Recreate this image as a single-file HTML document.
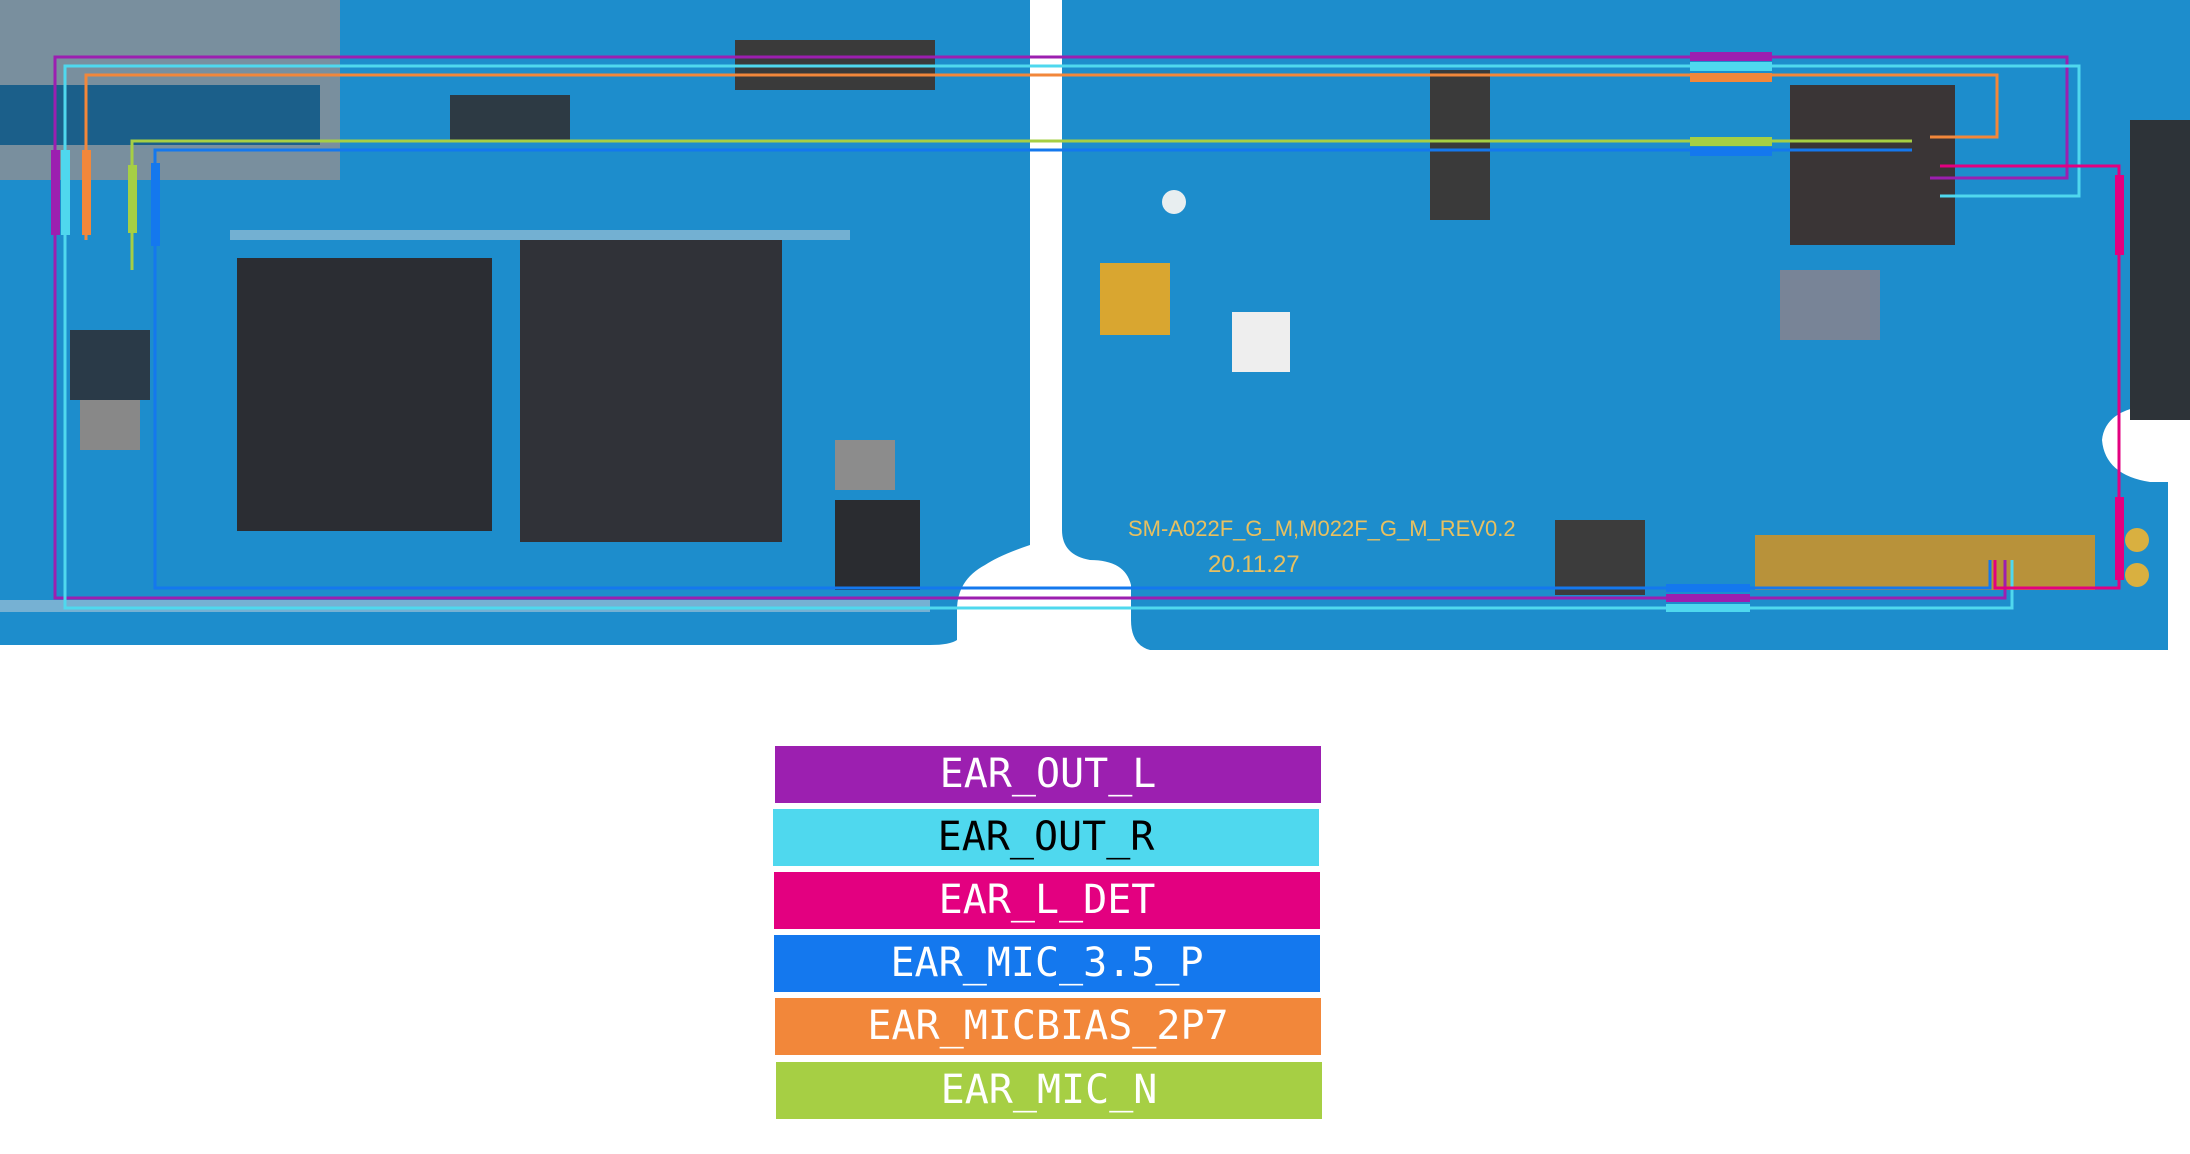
<!DOCTYPE html>
<html><head><meta charset="utf-8"><style>
html,body{margin:0;padding:0;background:#fff;width:2190px;height:1154px;overflow:hidden}
.lg{position:absolute;height:57px;font-family:"DejaVu Sans Mono","Liberation Mono",monospace;font-size:40px;line-height:57px;text-align:center;color:#fff}
</style></head><body>
<svg width="2190" height="1154" style="position:absolute;left:0;top:0" xmlns="http://www.w3.org/2000/svg">
<path d="M0 0H1030V545Q1000 555 985 565Q957 580 957 610V640Q950 645 930 645H0Z" fill="#1d8dcc"/>
<path d="M1062 0H2190V130L2150 140V405Q2105 410 2102 440Q2105 475 2150 482H2168V650H1150Q1131 645 1131 620V585Q1125 560 1090 560Q1062 555 1062 530Z" fill="#1d8dcc"/>
<rect x="0" y="0" width="340" height="180" fill="#8a8f95" opacity=".85"/>
<rect x="0" y="85" width="320" height="60" fill="#1b5f8a"/>
<rect x="237" y="258" width="255" height="273" fill="#2b2d33"/>
<rect x="520" y="240" width="262" height="302" fill="#303238"/>
<rect x="735" y="40" width="200" height="50" fill="#3a3a3a"/>
<rect x="835" y="500" width="85" height="90" fill="#2a2c30"/>
<rect x="835" y="440" width="60" height="50" fill="#8c8c8c"/>
<rect x="450" y="95" width="120" height="45" fill="#2d3a44"/>
<rect x="70" y="330" width="80" height="70" fill="#2a3a48"/>
<rect x="80" y="400" width="60" height="50" fill="#888"/>
<rect x="230" y="230" width="620" height="10" fill="#c9d3d8" opacity=".5"/>
<rect x="0" y="600" width="930" height="12" fill="#cfd6da" opacity=".5"/>
<rect x="1430" y="70" width="60" height="150" fill="#3a3a3a"/>
<rect x="1790" y="85" width="165" height="160" fill="#3a3536"/>
<rect x="1100" y="263" width="70" height="72" fill="#d9a630"/>
<rect x="1232" y="312" width="58" height="60" fill="#eee"/>
<rect x="2130" y="120" width="60" height="300" fill="#2d3338"/>
<rect x="1755" y="535" width="340" height="55" fill="#b8923a"/>
<rect x="1555" y="520" width="90" height="75" fill="#3c3c3c"/>
<rect x="1780" y="270" width="100" height="70" fill="#a08080" opacity=".7"/>
<circle cx="1174" cy="202" r="12" fill="#e8eef0"/>
<circle cx="2137" cy="540" r="12" fill="#d9b040"/>
<circle cx="2137" cy="575" r="12" fill="#d9b040"/>
<text x="1128" y="536" font-family="Liberation Sans,sans-serif" font-size="22" fill="#e8c060">SM-A022F_G_M,M022F_G_M_REV0.2</text>
<text x="1208" y="572" font-family="Liberation Sans,sans-serif" font-size="24" fill="#e8c060">20.11.27</text>
<g fill="none" stroke-width="3">
<path d="M55 320V57H2067V178H1930" stroke="#9c1fb0"/>
<path d="M55 320V598H2005V560" stroke="#9c1fb0"/>
<path d="M65 320V66H2079V196H1940" stroke="#4fd8ee"/>
<path d="M65 320V608H2012V560" stroke="#4fd8ee"/>
<path d="M86 240V75H1997V137H1930" stroke="#f2873a"/>
<path d="M132 270V141H1912" stroke="#a6cf44"/>
<path d="M155 280V150H1912" stroke="#1478ee"/>
<path d="M155 280V588H1990V560" stroke="#1478ee"/>
<path d="M1940 166H2119V588H1995V560" stroke="#e30080"/>
</g>
<g>
<rect x="51" y="150" width="9" height="85" fill="#9c1fb0"/>
<rect x="61" y="150" width="9" height="85" fill="#4fd8ee"/>
<rect x="82" y="150" width="9" height="85" fill="#f2873a"/>
<rect x="128" y="165" width="9" height="68" fill="#a6cf44"/>
<rect x="151" y="163" width="9" height="83" fill="#1478ee"/>
<rect x="2115" y="497" width="9" height="83" fill="#e30080"/>
<rect x="2115" y="175" width="9" height="80" fill="#e30080"/>
<rect x="1690" y="52" width="82" height="9" fill="#9c1fb0"/>
<rect x="1690" y="62" width="82" height="9" fill="#4fd8ee"/>
<rect x="1690" y="73" width="82" height="9" fill="#f2873a"/>
<rect x="1690" y="137" width="82" height="9" fill="#a6cf44"/>
<rect x="1690" y="147" width="82" height="9" fill="#1478ee"/>
<rect x="1666" y="584" width="84" height="8" fill="#1478ee"/>
<rect x="1666" y="594" width="84" height="8" fill="#9c1fb0"/>
<rect x="1666" y="604" width="84" height="8" fill="#4fd8ee"/>
</g>
</svg>
<div class="lg" style="left:775px;top:746px;width:546px;background:#9c1fb0">EAR_OUT_L</div>
<div class="lg" style="left:773px;top:809px;width:546px;background:#4fd8ee;color:#000">EAR_OUT_R</div>
<div class="lg" style="left:774px;top:872px;width:546px;background:#e30080">EAR_L_DET</div>
<div class="lg" style="left:774px;top:935px;width:546px;background:#1478ee">EAR_MIC_3.5_P</div>
<div class="lg" style="left:775px;top:998px;width:546px;background:#f2873a">EAR_MICBIAS_2P7</div>
<div class="lg" style="left:776px;top:1062px;width:546px;background:#a6cf44">EAR_MIC_N</div>
</body></html>
